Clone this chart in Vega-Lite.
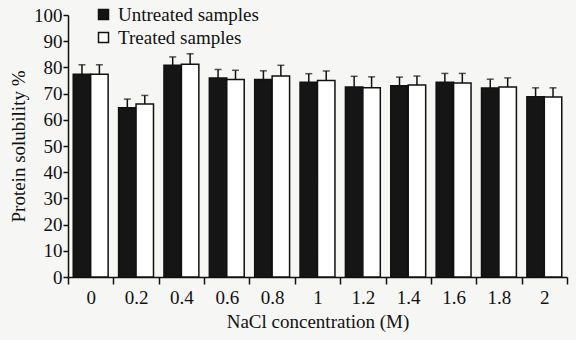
{
  "$schema": "https://vega.github.io/schema/vega-lite/v6.json",
  "width": 499,
  "height": 262,
  "autosize": {"type": "none"},
  "padding": {"left": 68, "top": 15, "right": 9, "bottom": 63},
  "background": "#f6f6f4",
  "config": {
    "font": "Liberation Serif",
    "view": {"stroke": null},
    "axis": {
      "labelFont": "Liberation Serif",
      "titleFont": "Liberation Serif",
      "labelFontSize": 19,
      "titleFontSize": 19,
      "titleFontWeight": "normal",
      "labelColor": "#111",
      "titleColor": "#111",
      "domainColor": "#111",
      "tickColor": "#111",
      "domainWidth": 1.5,
      "tickWidth": 1.5,
      "grid": false
    },
    "axisY": {"labelOverlap": false, "labelSeparation": 0, "tickSize": 5, "labelPadding": 1, "titlePadding": 5},
    "axisQuantitative": {"labelOverlap": false}
  },
  "data": {
    "values": [
      {"conc": "0", "group": "Untreated samples", "value": 77.4, "upper": 81.0},
      {"conc": "0", "group": "Treated samples", "value": 77.4, "upper": 81.0},
      {"conc": "0.2", "group": "Untreated samples", "value": 64.6, "upper": 67.9},
      {"conc": "0.2", "group": "Treated samples", "value": 66.0, "upper": 69.3},
      {"conc": "0.4", "group": "Untreated samples", "value": 80.8, "upper": 84.0},
      {"conc": "0.4", "group": "Treated samples", "value": 81.2, "upper": 85.2},
      {"conc": "0.6", "group": "Untreated samples", "value": 76.0, "upper": 79.2},
      {"conc": "0.6", "group": "Treated samples", "value": 75.4, "upper": 78.9},
      {"conc": "0.8", "group": "Untreated samples", "value": 75.4, "upper": 78.7},
      {"conc": "0.8", "group": "Treated samples", "value": 76.7, "upper": 80.8},
      {"conc": "1", "group": "Untreated samples", "value": 74.3, "upper": 77.6},
      {"conc": "1", "group": "Treated samples", "value": 75.0, "upper": 78.6},
      {"conc": "1.2", "group": "Untreated samples", "value": 72.5, "upper": 76.6},
      {"conc": "1.2", "group": "Treated samples", "value": 72.2, "upper": 76.4},
      {"conc": "1.4", "group": "Untreated samples", "value": 73.0, "upper": 76.3},
      {"conc": "1.4", "group": "Treated samples", "value": 73.3, "upper": 76.7},
      {"conc": "1.6", "group": "Untreated samples", "value": 74.3, "upper": 77.7},
      {"conc": "1.6", "group": "Treated samples", "value": 74.0, "upper": 77.7},
      {"conc": "1.8", "group": "Untreated samples", "value": 72.1, "upper": 75.5},
      {"conc": "1.8", "group": "Treated samples", "value": 72.5, "upper": 76.0},
      {"conc": "2", "group": "Untreated samples", "value": 68.8, "upper": 72.2},
      {"conc": "2", "group": "Treated samples", "value": 68.7, "upper": 72.2}
    ]
  },
  "encoding": {
    "x": {
      "field": "conc",
      "type": "nominal",
      "sort": null,
      "scale": {"paddingInner": 0, "paddingOuter": 0},
      "axis": {
        "title": "NaCl concentration (M)",
        "labelAngle": 0,
        "tickBand": "extent",
        "tickSize": 7,
        "labelPadding": 4,
        "titlePadding": 5
      }
    },
    "xOffset": {
      "field": "group",
      "type": "nominal",
      "sort": ["Untreated samples", "Treated samples"],
      "scale": {"paddingOuter": 0.3, "paddingInner": 0}
    }
  },
  "layer": [
    {
      "mark": {"type": "bar", "stroke": "#111", "strokeWidth": 1.5},
      "encoding": {
        "y": {
          "field": "value",
          "type": "quantitative",
          "scale": {"domain": [0, 100]},
          "axis": {
            "title": "Protein solubility %",
            "values": [0, 10, 20, 30, 40, 50, 60, 70, 80, 90, 100],
            "labelOverlap": false
          }
        },
        "fill": {
          "field": "group",
          "type": "nominal",
          "sort": ["Untreated samples", "Treated samples"],
          "scale": {"domain": ["Untreated samples", "Treated samples"], "range": ["#151515", "#ffffff"]},
          "legend": {
            "title": null,
            "orient": "none",
            "legendX": 26,
            "legendY": -10,
            "symbolType": "square",
            "symbolSize": 100,
            "symbolStrokeColor": "#111",
            "symbolStrokeWidth": 1.5,
            "labelFont": "Liberation Serif",
            "labelFontSize": 19,
            "labelColor": "#111",
            "labelOffset": 5,
            "rowPadding": 3,
            "padding": 0
          }
        }
      }
    },
    {
      "mark": {"type": "rule", "stroke": "#111", "strokeWidth": 1.5},
      "encoding": {
        "y": {"field": "value", "type": "quantitative", "axis": {"title": "Protein solubility %", "values": [0, 10, 20, 30, 40, 50, 60, 70, 80, 90, 100], "labelOverlap": false}},
        "y2": {"field": "upper"}
      }
    },
    {
      "mark": {"type": "tick", "color": "#111", "thickness": 1.5, "size": 7, "orient": "horizontal"},
      "encoding": {
        "y": {"field": "upper", "type": "quantitative", "axis": {"title": "Protein solubility %", "values": [0, 10, 20, 30, 40, 50, 60, 70, 80, 90, 100], "labelOverlap": false}}
      }
    }
  ]
}
